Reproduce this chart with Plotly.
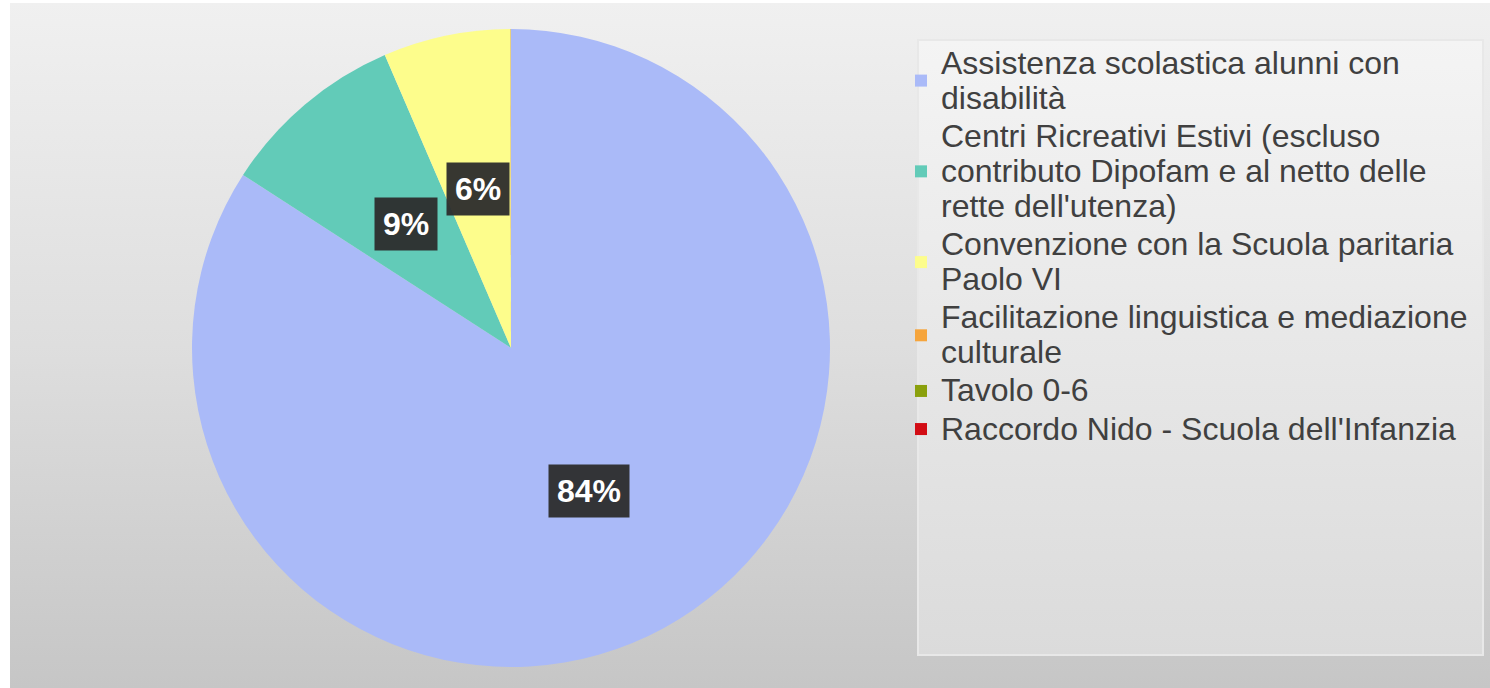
import base64
import math
import plotly.graph_objects as go

# ---------------- data ----------------
labels = [
    "Assistenza scolastica alunni con disabilità",
    "Centri Ricreativi Estivi (escluso contributo Dipofam e al netto delle rette dell'utenza)",
    "Convenzione con la Scuola paritaria Paolo VI",
    "Facilitazione linguistica e mediazione culturale",
    "Tavolo 0-6",
    "Raccordo Nido - Scuola dell'Infanzia",
]
legend_lines = [
    ["Assistenza scolastica alunni con", "disabilità"],
    ["Centri Ricreativi Estivi (escluso", "contributo Dipofam e al netto delle", "rette dell'utenza)"],
    ["Convenzione con la Scuola paritaria", "Paolo VI"],
    ["Facilitazione linguistica e mediazione", "culturale"],
    ["Tavolo 0-6"],
    ["Raccordo Nido - Scuola dell'Infanzia"],
]
values = [84.1, 9.4, 6.45, 0.01, 0.006, 0.004]
colors = ["#aabaf8", "#62cbb8", "#fdfd8c", "#f6a53c", "#8aa00c", "#d20c14"]

# ---------------- layout constants ----------------
W, H = 1490, 688
CX, CY, R = 511, 348, 319          # pie centre / radius in pixels
LEG_FONT = 27                      # sets legend line spacing
TXT_FONT = 32                      # legend text size

dom_x = [(CX - R) / W, (CX + R) / W]
dom_y = [(H - CY - R) / H, (H - CY + R) / H]


def legend_text(lines):
    return "<br>".join(f'<span style="font-size:{TXT_FONT}px">{ln}</span>' for ln in lines)


# ---------------- background (gradient via svg image) ----------------
svg = f'''<svg xmlns="http://www.w3.org/2000/svg" width="{W}" height="{H}" viewBox="0 0 {W} {H}" preserveAspectRatio="none">
<defs>
<linearGradient id="g1" x1="0" y1="0" x2="0" y2="1">
<stop offset="0" stop-color="#f0f0f0"/><stop offset="0.5" stop-color="#dedede"/><stop offset="1" stop-color="#c6c6c6"/>
</linearGradient>
<linearGradient id="g2" x1="0" y1="0" x2="0" y2="1">
<stop offset="0" stop-color="#f4f4f4"/><stop offset="1" stop-color="#dbdbdb"/>
</linearGradient>
</defs>
<rect x="0" y="0" width="{W}" height="{H}" fill="#ffffff"/>
<rect x="10" y="3" width="{W-10}" height="{H-3}" fill="url(#g1)"/>
<rect x="918" y="40" width="565" height="615" fill="url(#g2)" stroke="#e8e8e8" stroke-width="2"/>
</svg>'''
bg_src = "data:image/svg+xml;base64," + base64.b64encode(svg.encode()).decode()

fig = go.Figure()
fig.add_trace(go.Pie(
    labels=[legend_text(l) for l in legend_lines],
    values=values,
    marker=dict(colors=colors, line=dict(width=0)),
    sort=False,
    direction="clockwise",
    rotation=0,
    textinfo="none",
    hoverinfo="skip",
    domain=dict(x=dom_x, y=dom_y),
    showlegend=True,
))

# percentage labels (dark boxes), placed from the cumulative values
total = sum(values)
cum = 0.0
annotations = []
for v in values:
    frac = v / total
    if frac >= 0.02:
        th = 2 * math.pi * (cum + frac / 2)
        px = CX + 0.51 * R * math.sin(th)
        py = CY - 0.51 * R * math.cos(th)
        annotations.append(dict(
            x=px / W, y=1 - py / H, xref="paper", yref="paper",
            text=f"{round(frac * 100)}%", showarrow=False,
            xanchor="center", yanchor="middle",
            font=dict(family="Liberation Sans, Arial", size=TXT_FONT, color="#ffffff", weight="bold"),
            bgcolor="rgba(44,44,44,0.95)", borderpad=8,
        ))
    cum += frac

fig.update_layout(
    width=W, height=H,
    margin=dict(l=0, r=0, t=0, b=0),
    paper_bgcolor="#ffffff",
    images=[dict(source=bg_src, xref="paper", yref="paper", x=0, y=1,
                 sizex=1, sizey=1, xanchor="left", yanchor="top",
                 sizing="stretch", layer="below")],
    legend=dict(
        x=901 / W, y=1 - 39 / H, xanchor="left", yanchor="top",
        bgcolor="rgba(0,0,0,0)",
        font=dict(family="Liberation Sans, Arial", size=LEG_FONT, color="#404040"),
        itemclick=False, itemdoubleclick=False,
    ),
    annotations=annotations,
)

fig.write_html(
    "out.html",
    config={"displayModeBar": False},
    post_script="document.body.style.margin='0px';document.body.style.overflow='hidden';",
)
